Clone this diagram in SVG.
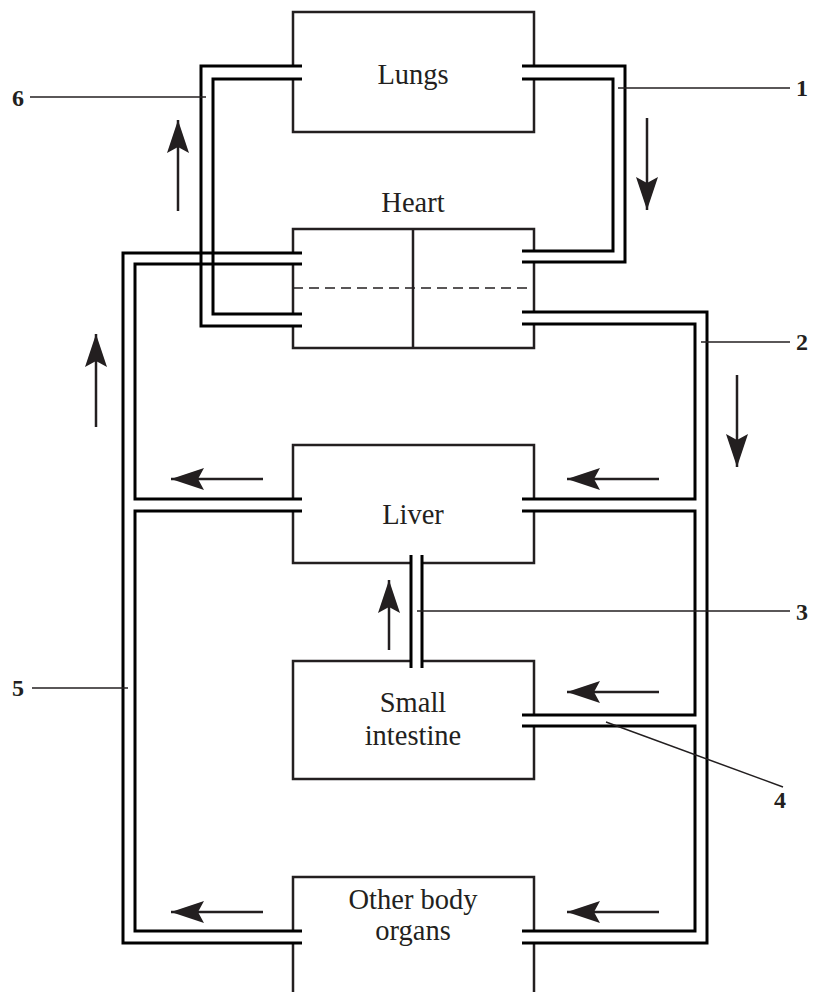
<svg xmlns="http://www.w3.org/2000/svg" width="815" height="992" viewBox="0 0 815 992">
<style>
.box{fill:none;stroke:#231f20;stroke-width:2.5}
.pipe{fill:none;stroke:#000;stroke-width:3;stroke-linejoin:miter}
.lead{fill:none;stroke:#231f20;stroke-width:1.5}
.arr{fill:none;stroke:#231f20;stroke-width:2.5}
.t{font-family:"Liberation Serif","Times New Roman",serif;font-size:28.5px;fill:#231f20;text-anchor:middle}
.n{font-family:"Liberation Serif","Times New Roman",serif;font-size:24px;font-weight:bold;fill:#231f20;text-anchor:middle}
</style>
<defs>
<marker id="ah" markerUnits="userSpaceOnUse" markerWidth="34" markerHeight="22" refX="33" refY="11" orient="auto">
<path d="M0,0 L33,11 L0,22 L6,11 Z" fill="#231f20"/>
</marker>
</defs>
<rect width="815" height="992" fill="#fff"/>
<g id="lungs">
<path class="box" d="M293,66 V12 H534 V66 M534,79 V132 H293 V79"/>
<text class="t" x="413" y="84">Lungs</text>
</g>
<g id="heart">
<path class="box" d="M293,253 V229 H534 V251 M534,262 V312 M534,324 V348 H293 V326 M293,314 V264"/>
<path class="box" d="M413,229 V348"/>
<path d="M293,288 H534" fill="none" stroke="#231f20" stroke-width="1.5" stroke-dasharray="10,6"/>
<text class="t" x="413" y="212">Heart</text>
</g>
<g id="liver">
<path class="box" d="M293,499 V445 H534 V499 M534,511 V563 H422 M411,563 H293 V511"/>
<text class="t" x="413" y="524">Liver</text>
</g>
<g id="small-intestine">
<path class="box" d="M411,661 H293 V779 H534 V726 M534,715 V661 H422"/>
<text class="t" x="413" y="712">Small</text>
<text class="t" x="413" y="745">intestine</text>
</g>
<g id="other-organs">
<path class="box" d="M293,931 V877 H534 V931 M534,943 V992 M293,943 V992"/>
<text class="t" x="413" y="909">Other body</text>
<text class="t" x="413" y="940">organs</text>
</g>
<g id="connectors">
<path class="pipe" d="M302,66 H201 V326 H302"/>
<path class="pipe" d="M302,79 H213 V314 H302"/>
<path class="pipe" d="M522,66 H625 V262 H522"/>
<path class="pipe" d="M522,79 H613 V251 H522"/>
<path class="pipe" d="M302,253 H123 V943 H302"/>
<path class="pipe" d="M302,264 H135 V499 H302"/>
<path class="pipe" d="M302,511 H135 V931 H302"/>
<path class="pipe" d="M522,312 H707 V943 H522"/>
<path class="pipe" d="M522,324 H695 V499 H522"/>
<path class="pipe" d="M522,511 H695 V715 H522"/>
<path class="pipe" d="M522,726 H695 V931 H522"/>
<path class="pipe" d="M411,555 V668 M422,555 V668"/>
<path class="arr" marker-end="url(#ah)" d="M178,211 V120"/>
<path class="arr" marker-end="url(#ah)" d="M647,118 V210"/>
<path class="arr" marker-end="url(#ah)" d="M96,427 V334"/>
<path class="arr" marker-end="url(#ah)" d="M737,375 V467"/>
<path class="arr" marker-end="url(#ah)" d="M263,479 H171"/>
<path class="arr" marker-end="url(#ah)" d="M659,479 H567"/>
<path class="arr" marker-end="url(#ah)" d="M389,650 V580"/>
<path class="arr" marker-end="url(#ah)" d="M659,692 H567"/>
<path class="arr" marker-end="url(#ah)" d="M263,912 H171"/>
<path class="arr" marker-end="url(#ah)" d="M659,912 H567"/>
</g>
<g id="labels">
<path class="lead" d="M30,97 H206"/>
<path class="lead" d="M618,88 H790"/>
<path class="lead" d="M701,342 H790"/>
<path class="lead" d="M417,611 H790"/>
<path class="lead" d="M606,722 L783,787"/>
<path class="lead" d="M32,688 H128"/>
<text class="n" x="18" y="106">6</text>
<text class="n" x="802" y="96">1</text>
<text class="n" x="802" y="350">2</text>
<text class="n" x="802" y="620">3</text>
<text class="n" x="780" y="808">4</text>
<text class="n" x="18" y="696">5</text>
</g>
</svg>
